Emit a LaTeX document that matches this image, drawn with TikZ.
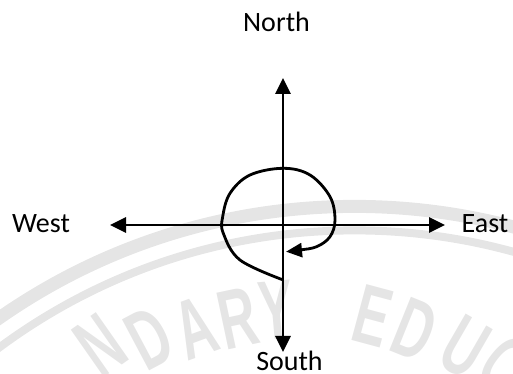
\documentclass[tikz,border=0pt]{standalone}
\usepackage{fontspec}
\setmainfont{Carlito}
\newfontfamily\sealfont{Liberation Sans}
\usetikzlibrary{arrows.meta}

\begin{document}
\begin{tikzpicture}[x=1pt, y=1pt,
  dirline/.style={line width=2.8pt, -{Triangle[length=16pt, width=15pt]}},
  turnline/.style={line width=2.8pt, -{Triangle[length=16pt, width=14pt]}},
  dirlabel/.style={anchor=base, inner sep=0pt, font=\fontsize{28}{30}\selectfont},
  wmletter/.style={text=black!10, inner sep=0pt, font=\sealfont\bfseries\fontsize{84}{84}\selectfont}
]
  \useasboundingbox (0,0) rectangle (513,374);

  % faint seal in the background
  \begin{scope}
    \clip (0,0) rectangle (513,374);
    \draw[black!10, line width=13pt] (354.5,-453.4) circle[radius=621];
    \draw[black!10, line width=8pt] (354.5,-453.4) circle[radius=597];
    \foreach \ch/\px/\py/\rot in {N/100/29/35, D/150/36/28, A/195/46/20, R/238/56/12, Y/276/64/5,
                                  E/373/58/-15, D/415/44/-22, U/465/27/-30, C/505/9/-38}
      \node[wmletter, rotate=\rot, xscale=0.62] at (\px,\py) {\ch};
  \end{scope}

  % compass
  \coordinate (O) at (283,149);
  \coordinate (ntip) at (283,296);
  \coordinate (stip) at (283,22);
  \coordinate (wtip) at (110,149);
  \coordinate (etip) at (445,149);

  \node[dirlabel] (north) at (276.5,342) {North};
  \node[dirlabel] (south) at (289.5,3) {South};
  \node[dirlabel] (west) at (41,141) {West};
  \node[dirlabel] (east) at (485,141) {East};

  \draw[dirline] (O) -- (ntip);
  \draw[dirline] (O) -- (stip);
  \draw[dirline] (O) -- (wtip);
  \draw[dirline] (O) -- (etip);

  % turning path
  \draw[turnline] plot[smooth, tension=0.6] coordinates {(283.3,94) (240,114) (223.3,140.7) (222.7,157.3)
    (230,180.7) (250,199) (283.3,205.7) (310,199) (330,177.3) (335,154) (330,137.3) (316.7,127.3)
    (300,124) (286,122.3)};
\end{tikzpicture}
\end{document}
